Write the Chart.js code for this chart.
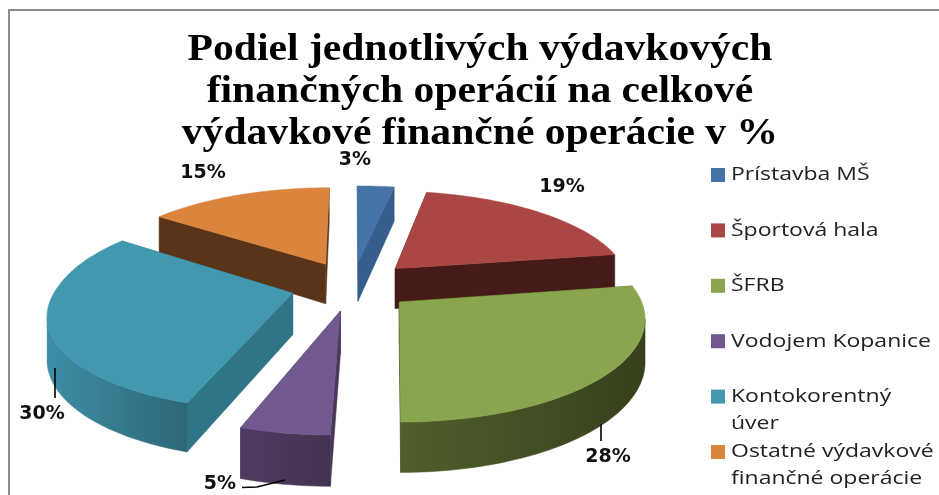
<!DOCTYPE html>
<html>
<head>
<meta charset="utf-8">
<style>html,body{margin:0;padding:0;background:#fff}canvas{display:block}</style>
<script src="https://cdn.jsdelivr.net/npm/chart.js@4"></script>
</head>
<body>
<canvas id="c" width="939" height="495"></canvas>
<script>
const titleLines = ["Podiel jednotlivých výdavkových", "finančných operácií na celkové", "výdavkové finančné operácie v %"];
const categories = ["Prístavba MŠ", "Športová hala", "ŠFRB", "Vodojem Kopanice", "Kontokorentný úver", "Ostatné výdavkové finančné operácie"];
const legendLines = [["Prístavba MŠ"], ["Športová hala"], ["ŠFRB"], ["Vodojem Kopanice"], ["Kontokorentný", "úver"], ["Ostatné výdavkové", "finančné operácie"]];
const values = [3, 19.4, 27.6, 5, 30, 15];

const topColors = ["#4572A7", "#AA4643", "#89A54E", "#71588F", "#4198AF", "#DB843D"];
const wallColors = ["#355E8C", "#451A18", "#37431D", "#4A3659", "#2F7487", "#5A3418"];
const outerLeft = ["#355E8C", "#451A18", "#515F2B", "#503B60", "#3D8FA6", "#5A3418"];
const outerRight = ["#355E8C", "#451A18", "#35401C", "#43324F", "#2E6678", "#5A3418"];

// label placement relative to the canvas, kept apart from the data
const labelAnchors = [[355, 160], [562, 187], [608, 457], [220, 484], [42, 414], [203, 173]];
const leaders = [null, null, [[601, 424], [601, 441]], [[242, 487.5], [257, 487], [285, 480]], [[55, 368], [55, 398]], null];

const EXPLODE = 0.26, RX = 1.808, RY = 0.728, PERSP = 0.16, DEPTH = 41, SKEW = 8, TITLE_STRETCH = 1.095;

function projector(el) {
  const r = el.outerRadius;
  return (a, m, rad, down) => {
    const u = rad * Math.cos(a) + EXPLODE * Math.cos(m);
    const v = rad * Math.sin(a) + EXPLODE * Math.sin(m);
    const w = 1 - PERSP * v;
    return [el.x + RX * r * u / w - SKEW * Math.max(v, 0), el.y + (RY * r * v + down) / w];
  };
}
function poly(ctx, pts, fill) {
  ctx.beginPath();
  pts.forEach((p, i) => i ? ctx.lineTo(p[0], p[1]) : ctx.moveTo(p[0], p[1]));
  ctx.closePath();
  ctx.fillStyle = fill;
  ctx.strokeStyle = fill;
  ctx.lineWidth = 0.5;
  ctx.fill();
  ctx.stroke();
}
function stretchedText(ctx, text, x, y, sx, font, color) {
  ctx.save();
  ctx.font = font;
  ctx.fillStyle = color;
  ctx.textBaseline = "middle";
  ctx.textAlign = "left";
  ctx.translate(x, y);
  ctx.scale(sx, 1);
  ctx.fillText(text, 0, 0);
  ctx.restore();
}

const pie3d = {
  id: "pie3d",
  afterUpdate(chart) {
    const block = chart.titleBlock;
    if (!block || block._stretched) return;
    const original = block.draw;
    block.draw = function () {
      const ctx = chart.ctx, cx = (block.left + block.right) / 2;
      ctx.save();
      ctx.translate(cx, 0);
      ctx.scale(TITLE_STRETCH, 1);
      ctx.translate(-cx, 0);
      original.call(block);
      ctx.restore();
    };
    block._stretched = true;
  },
  beforeDraw(chart) {
    const ctx = chart.ctx;
    ctx.save();
    ctx.fillStyle = "#fff";
    ctx.fillRect(0, 0, chart.width, chart.height);
    ctx.strokeStyle = "#8c8c8c";
    ctx.lineWidth = 2;
    ctx.beginPath();
    ctx.moveTo(9, chart.height);
    ctx.lineTo(9, 10);
    ctx.lineTo(chart.width, 10);
    ctx.stroke();
    ctx.restore();
  },
  beforeDatasetDraw(chart) {
    const ctx = chart.ctx;
    const arcs = chart.getDatasetMeta(0).data.map((el, i) => ({ el, i, m: (el.startAngle + el.endAngle) / 2 }));
    arcs.sort((p, q) => Math.sin(p.m) - Math.sin(q.m));
    arcs.forEach(({ el, i, m }) => {
      const P = projector(el), a0 = el.startAngle, a1 = el.endAngle;
      const n = Math.max(8, Math.round((a1 - a0) * 40));
      const angles = [];
      for (let k = 0; k <= n; k++) angles.push(a0 + (a1 - a0) * k / n);
      const apexTop = P(0, m, 0, 0), apexLow = P(0, m, 0, DEPTH);
      poly(ctx, [apexTop, P(a0, m, 1, 0), P(a0, m, 1, DEPTH), apexLow], wallColors[i]);
      poly(ctx, [apexTop, P(a1, m, 1, 0), P(a1, m, 1, DEPTH), apexLow], wallColors[i]);
      const front = angles.filter((a, k) => k < n
        ? P(angles[k + 1], m, 1, 0)[0] < P(a, m, 1, 0)[0]
        : P(angles[k - 1], m, 1, 0)[0] > P(a, m, 1, 0)[0]);
      if (front.length > 1) {
        const upper = front.map(a => P(a, m, 1, 0));
        const lower = front.map(a => P(a, m, 1, DEPTH)).reverse();
        const all = upper.concat(lower);
        const xs = all.map(p => p[0]);
        const g = ctx.createLinearGradient(Math.min(...xs), 0, Math.max(...xs), 0);
        g.addColorStop(0, outerLeft[i]);
        g.addColorStop(1, outerRight[i]);
        poly(ctx, all, g);
      }
      poly(ctx, [apexTop].concat(angles.map(a => P(a, m, 1, 0))), topColors[i]);
    });
    return false;
  },
  afterDatasetsDraw(chart) {
    const ctx = chart.ctx;
    ctx.save();
    ctx.strokeStyle = "#000";
    ctx.lineWidth = 1.6;
    leaders.forEach(line => {
      if (!line) return;
      ctx.beginPath();
      line.forEach((p, i) => i ? ctx.lineTo(p[0], p[1]) : ctx.moveTo(p[0], p[1]));
      ctx.stroke();
    });
    ctx.font = "bold 19px 'DejaVu Sans'";
    ctx.fillStyle = "#111";
    ctx.textAlign = "center";
    ctx.textBaseline = "middle";
    values.forEach((v, i) => ctx.fillText(Math.round(v) + "%", labelAnchors[i][0], labelAnchors[i][1]));
    ctx.restore();
  }
};

const legendBox = {
  position: "right", weight: 0, fullSize: false, options: { display: true },
  left: 0, top: 0, right: 0, bottom: 0, width: 255, height: 0,
  isHorizontal() { return false; },
  update(w, h) { this.width = 255; this.height = h; },
  draw() {
    const ctx = this.ctx;
    ctx.save();
    legendLines.forEach((lines, i) => {
      const y = 175 + i * 55.4;
      ctx.fillStyle = topColors[i];
      ctx.fillRect(this.left + 27, y - 7, 14, 14);
      lines.forEach((t, k) => stretchedText(ctx, t, this.left + 47, y + k * 27, 1.21, "19px 'Open Sans'", "#222"));
    });
    ctx.restore();
  }
};

const chart = new Chart(document.getElementById("c"), {
  type: "pie",
  data: { labels: categories, datasets: [{ data: values, backgroundColor: topColors, borderWidth: 0 }] },
  plugins: [pie3d, {
    id: "legendBoxInstall",
    install(c) { legendBox.ctx = c.ctx; Chart.layouts.addBox(c, legendBox); }
  }],
  options: {
    responsive: false,
    animation: false,
    layout: { padding: { left: 21, right: 0, top: 27, bottom: 79 } },
    plugins: {
      legend: { display: false },
      tooltip: { enabled: false },
      title: {
        display: true,
        text: titleLines,
        color: "#000",
        padding: { top: 2, bottom: 0 },
        font: { family: "'Liberation Serif'", weight: "bold", size: 38, lineHeight: 42 / 38 }
      }
    }
  }
});
</script>
</body>
</html>
